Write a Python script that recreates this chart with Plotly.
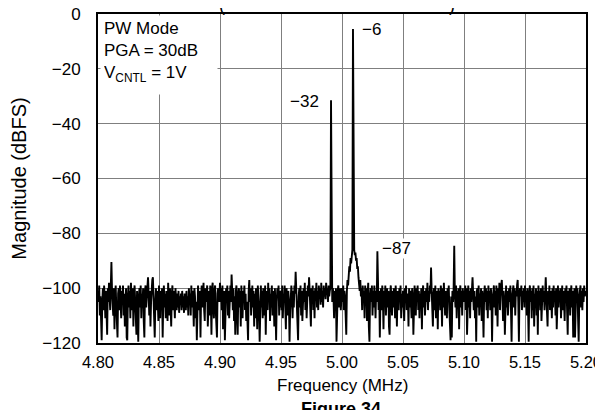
import plotly.graph_objects as go

# Frequency grid (MHz) and magnitude values (dBFS)
f_start = 4.800
f_step = 0.0005

noise_db = [
    # 4.8000 - 4.8495
    -101, -105, -99, -110, -103, -114, -119, -105, -100, -108,
    -99, -103, -111, -101, -107, -117, -100, -105, -98, -102,
    -108, -99, -90.5, -101, -105, -110, -100, -115, -103, -99,
    -107, -117, -118, -102, -100, -108, -99, -105, -111, -101,
    -103, -99, -110, -102, -114, -105, -100, -118, -119, -103,
    -99, -107, -101, -111, -98, -103, -108, -100, -114, -102,
    -99, -105, -112, -117, -101, -108, -119.5, -103, -100, -107,
    -99, -111, -102, -105, -100, -112, -118, -101, -99, -107,
    -103, -98, -96, -102, -110, -101, -114, -105, -99, -97,
    -96, -103, -111, -118, -105, -100, -108, -101, -105, -112,
    # 4.8500 - 4.8995
    -99, -103, -111, -101, -108, -100, -118, -105, -99, -107,
    -102, -111, -101, -105, -112, -98, -103, -110, -100, -107,
    -114, -102, -99, -108, -101, -105, -111, -100, -103, -108,
    -102, -107, -101, -109, -103, -105, -102, -108, -101, -107,
    -103, -109, -102, -105, -108, -101, -107, -103, -110, -100,
    -105, -102, -110, -99, -107, -101, -105, -114, -100, -103,
    -111, -105, -119, -102, -99, -105, -108, -101, -118, -103,
    -99, -107, -101, -98, -108, -112, -100, -105, -102, -99,
    -114, -103, -101, -110, -99, -105, -117, -100, -98, -107,
    -111, -101, -99, -108, -114, -118, -102, -100, -105, -103,
    # 4.9000 - 4.9495
    -98, -105, -100, -108, -99, -115, -103, -101, -119, -107,
    -100, -103, -99, -110, -101, -111, -102, -99, -105, -95,
    -101, -108, -100, -112, -103, -117, -101, -99, -110, -117,
    -102, -100, -107, -101, -114, -99, -105, -111, -101, -103,
    -99, -108, -102, -112, -105, -117, -119, -101, -97, -105,
    -100, -110, -103, -99, -107, -101, -114, -102, -111, -100,
    -105, -115, -99, -103, -108, -119.5, -102, -99, -107, -101,
    -111, -100, -105, -110, -99, -117, -103, -101, -108, -98,
    -105, -100, -112, -102, -107, -99, -110, -101, -103, -114,
    -100, -108, -119, -105, -100, -103, -99, -110, -101, -107,
    # 4.9500 - 4.9995
    -101, -108, -99, -111, -102, -105, -99, -107, -115, -100,
    -103, -110, -101, -105, -119.5, -108, -102, -99, -103, -111,
    -101, -107, -99, -102, -94, -100, -105, -112, -119, -103,
    -100, -107, -99, -110, -101, -112, -103, -100, -105, -98,
    -108, -101, -111, -102, -99, -103, -96, -101, -107, -114,
    -100, -105, -99, -108, -101, -111, -100, -103, -98, -107,
    -101, -108, -99, -103, -100, -106, -98, -105, -101, -107,
    -99, -103, -100, -104, -98, -102, -100, -105, -99, -103,
    -101, -100, -31.5, -102, -105, -100, -103, -111, -101, -108,
    -100, -119.5, -105, -101, -99, -107, -102, -100, -108, -101,
    # 5.0000 - 5.0495
    -100, -105, -99, -108, -101, -103, -111, -117, -101, -97,
    -99, -95, -92, -94, -89, -91, -87, -86, -5.5, -84,
    -86, -88, -87, -90, -89, -93, -92, -96, -98, -101,
    -97, -103, -100, -108, -99, -105, -101, -111, -99, -103,
    -100, -112, -102, -98, -114, -119.5, -103, -100, -105, -99,
    -110, -101, -107, -99, -103, -111, -101, -105, -86.5, -103,
    -108, -101, -118, -105, -100, -108, -99, -103, -115, -101,
    -105, -99, -110, -102, -100, -107, -101, -114, -117, -102,
    -99, -105, -110, -101, -107, -100, -103, -111, -99, -105,
    -114, -101, -103, -108, -100, -105, -99, -111, -102, -107,
    # 5.0500 - 5.0995
    -101, -107, -112, -100, -105, -99, -108, -102, -103, -114,
    -100, -107, -101, -105, -111, -100, -103, -117, -101, -99,
    -105, -110, -100, -103, -99, -108, -101, -111, -102, -105,
    -100, -115, -102, -99, -107, -101, -110, -103, -100, -105,
    -98, -108, -101, -105, -99, -102, -92.5, -101, -107, -114,
    -102, -100, -108, -99, -111, -103, -101, -115, -100, -105,
    -101, -108, -99, -103, -114, -100, -107, -98, -105, -110,
    -101, -103, -111, -100, -105, -99, -108, -114, -119, -103,
    -118, -101, -105, -100, -84.5, -102, -107, -99, -111, -101,
    -105, -100, -115, -102, -99, -107, -101, -110, -100, -105,
    # 5.1000 - 5.1495
    -101, -105, -99, -108, -100, -117, -102, -99, -107, -101,
    -111, -100, -105, -98, -96, -102, -108, -101, -111, -103,
    -119.5, -101, -100, -107, -99, -110, -102, -105, -100, -112,
    -101, -107, -118, -103, -99, -105, -100, -108, -101, -111,
    -99, -105, -101, -108, -100, -103, -119.5, -105, -100, -99,
    -107, -101, -110, -99, -103, -114, -100, -105, -98, -108,
    -101, -99, -97, -103, -112, -101, -105, -117, -100, -99,
    -107, -101, -110, -102, -100, -105, -99, -108, -119.5, -103,
    -101, -99, -107, -100, -110, -101, -103, -99, -97, -105,
    -119.5, -102, -100, -103, -99, -108, -101, -105, -100, -107,
    # 5.1500 - 5.2000
    -99, -105, -101, -110, -100, -107, -119.5, -102, -99, -105,
    -101, -111, -100, -108, -99, -114, -102, -105, -100, -110,
    -101, -117, -99, -105, -101, -108, -100, -112, -102, -99,
    -105, -101, -108, -100, -96, -103, -111, -114, -101, -105,
    -99, -108, -101, -103, -111, -100, -107, -99, -105, -101,
    -110, -100, -115, -102, -99, -107, -101, -105, -100, -111,
    -102, -99, -108, -101, -105, -112, -100, -103, -99, -108,
    -117, -101, -105, -100, -110, -102, -99, -107, -101, -118,
    -103, -100, -118, -102, -99, -105, -100, -111, -119.5, -103,
    -101, -99, -107, -101, -108, -100, -105, -99, -103, -101,
    -101,
]

freq_mhz = [round(f_start + i * f_step, 5) for i in range(len(noise_db))]

# labelled peaks: frequency (MHz), level (dBFS), label
peak_freqs = [5.009, 4.991, 5.029]
peak_levels = [-5.5, -31.5, -86.5]
peak_labels = ["\u22126", "\u221232", "\u221287"]

x_ticks = [4.80, 4.85, 4.90, 4.95, 5.00, 5.05, 5.10, 5.15, 5.20]
x_tick_text = ["4.80", "4.85", "4.90", "4.95", "5.00", "5.05", "5.10", "5.15", "5.20"]
y_ticks = [0, -20, -40, -60, -80, -100, -120]
y_tick_text = ["0", "\u221220", "\u221240", "\u221260", "\u221280", "\u2212100", "\u2212120"]

FONT = "Liberation Sans, Arial, Helvetica, sans-serif"
FS = 17

fig = go.Figure()
fig.add_trace(go.Scatter(
    x=freq_mhz, y=noise_db, mode="lines",
    line=dict(color="black", width=1.9),
    hoverinfo="skip", showlegend=False,
))

# peak value annotations
fig.add_annotation(x=peak_freqs[0], y=peak_levels[0], text=peak_labels[0], showarrow=False,
                   xanchor="left", yanchor="middle", xshift=7, yshift=0,
                   font=dict(family=FONT, size=FS, color="black"))
fig.add_annotation(x=peak_freqs[1], y=peak_levels[1], text=peak_labels[1], showarrow=False,
                   xanchor="right", yanchor="middle", xshift=-10, yshift=-1,
                   font=dict(family=FONT, size=FS, color="black"))
fig.add_annotation(x=peak_freqs[2], y=peak_levels[2], text=peak_labels[2], showarrow=False,
                   xanchor="left", yanchor="middle", xshift=4, yshift=3,
                   bgcolor="white", borderpad=0,
                   font=dict(family=FONT, size=FS, color="black"))

# condition box (top-left)
fig.add_annotation(xref="paper", yref="paper", x=0, y=1, xanchor="left", yanchor="top",
                   text="PW Mode<br>PGA = 30dB<br>V<sub>CNTL</sub> = 1V",
                   align="left", valign="top", width=110, height=72,
                   showarrow=False, bgcolor="white", borderpad=3,
                   xshift=2, yshift=-1,
                   font=dict(family=FONT, size=FS, color="black"))

# x-axis title
fig.add_annotation(xref="paper", yref="paper", x=0.5, y=-0.128, xanchor="center",
                   yanchor="middle", text="Frequency (MHz)", showarrow=False,
                   font=dict(family=FONT, size=FS, color="black"))

# cut-off caption parts
fig.add_annotation(xref="paper", yref="paper", x=0.497, y=-0.165, xanchor="center", yanchor="top",
                   text="<b>Figure 34</b>", showarrow=False,
                   font=dict(family=FONT, size=18, color="black"))
fig.add_annotation(xref="paper", yref="paper", x=(222 - 98) / 488, y=1.026, xanchor="center",
                   yanchor="middle", text="(", showarrow=False,
                   font=dict(family=FONT, size=18, color="black"))
fig.add_annotation(xref="paper", yref="paper", x=(452 - 98) / 488, y=1.026, xanchor="center",
                   yanchor="middle", text=")", showarrow=False,
                   font=dict(family=FONT, size=18, color="black"))

fig.update_layout(
    width=603, height=410,
    margin=dict(l=90, r=25, t=6, b=75, autoexpand=False),
    paper_bgcolor="white", plot_bgcolor="white",
    font=dict(family=FONT, size=FS, color="black"),
    xaxis=dict(
        range=[4.8, 5.2], tickvals=x_ticks, ticktext=x_tick_text,
        showgrid=True, gridcolor="#7f7f7f", gridwidth=1,
        showline=True, linecolor="black", linewidth=2, mirror=True,
        ticks="", ticklabelstandoff=3, zeroline=False, automargin=False,
        ticklabeloverflow="allow", tickfont=dict(size=16.5),
    ),
    yaxis=dict(
        range=[-120, 0], tickvals=y_ticks, ticktext=y_tick_text,
        showgrid=True, gridcolor="#7f7f7f", gridwidth=1,
        showline=True, linecolor="black", linewidth=2, mirror=True,
        ticks="", ticklabelstandoff=12, zeroline=False, automargin=False,
        ticklabeloverflow="allow",
        title=dict(text="Magnitude (dBFS)", standoff=10),
        tickfont=dict(size=FS),
    ),
)

fig.write_html("out.html")
